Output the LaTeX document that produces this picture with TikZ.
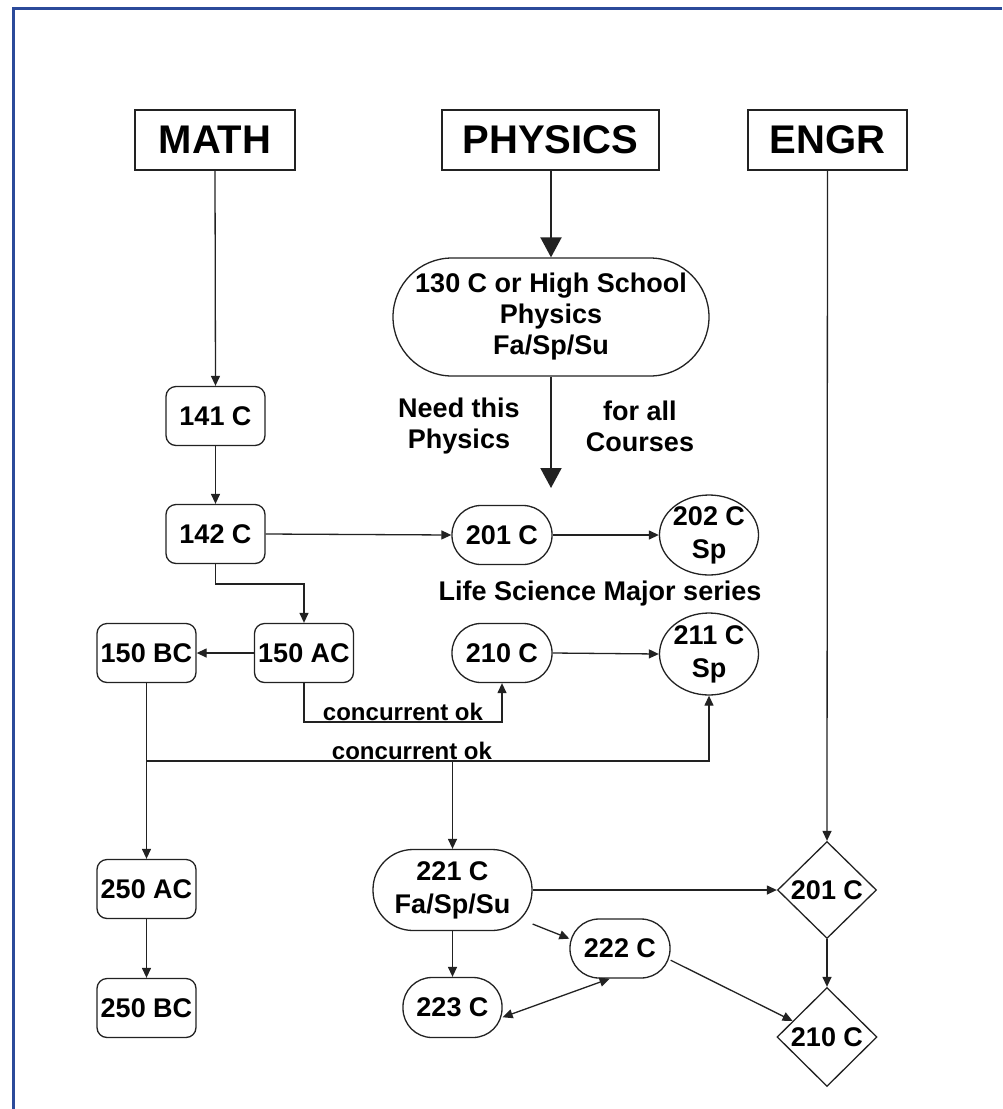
\documentclass[tikz,border=0pt]{standalone}
\usepackage{fontspec}
\setmainfont{Liberation Sans}
\usetikzlibrary{shapes.geometric,arrows.meta}
\definecolor{frameblue}{HTML}{2B4A9A}
\definecolor{ink}{HTML}{222222}
\begin{document}
\begin{tikzpicture}[x=1pt,y=-1pt,
  every node/.style={font=\bfseries\fontsize{27}{33}\selectfont, inner sep=0pt, text=black},
  hdr/.style={draw=ink, line width=1.5pt, minimum height=60pt, font=\bfseries\fontsize{40}{48}\selectfont},
  rbox/.style={draw=ink, line width=1.3pt, rounded corners=10pt, minimum width=99pt, minimum height=59pt},
  stad/.style={draw=ink, line width=1.3pt, rounded corners=29pt, minimum width=100pt, minimum height=59pt},
  oval/.style={draw=ink, ellipse, line width=1.3pt, inner sep=-1pt, align=center},
  dia/.style={draw=ink, diamond, line width=1.3pt, minimum width=99pt, minimum height=97pt},
  arr/.style={draw=ink, line width=1.3pt, -{Triangle[length=10pt,width=9pt]}},
  dblarr/.style={draw=ink, line width=1.3pt, {Triangle[length=10pt,width=9pt]}-{Triangle[length=10pt,width=9pt]}},
  bigarr/.style={draw=ink, line width=2pt, -{Triangle[length=20pt,width=21pt]}},
  ln/.style={draw=ink, line width=1.3pt},
  lbl/.style={align=center, font=\bfseries\fontsize{27}{31}\selectfont},
  small/.style={font=\bfseries\fontsize{24}{28}\selectfont}
]
\useasboundingbox (0,0) rectangle (1002,1109);
\fill[white] (0,0) rectangle (1002,1109);
\draw[frameblue, line width=3pt] (13,1109) -- (13,8) -- (1002,8);

% headers
\node[hdr, minimum width=160pt] (math) at (215,140) {MATH};
\node[hdr, minimum width=217pt] (phys) at (550.5,140) {PHYSICS};
\node[hdr, minimum width=159pt] (engr) at (827.5,140) {ENGR};

% math column
\node[rbox] (c141) at (215.5,416) {141 C};
\node[rbox] (c142) at (215.5,534) {142 C};
\node[rbox] (c150ac) at (304,653) {150 AC};
\node[rbox] (c150bc) at (146.5,653) {150 BC};
\node[rbox] (c250ac) at (146.5,889) {250 AC};
\node[rbox] (c250bc) at (146.5,1008) {250 BC};

% physics column
\node[stad, minimum width=316pt, minimum height=118pt, rounded corners=59pt, align=center,
      font=\bfseries\fontsize{27}{31}\selectfont] (p130) at (551,317) {130 C or High School\\Physics\\Fa/Sp/Su};
\coordinate (p130end) at (551,488);
\node[lbl] (need) at (459,426) {Need this\\Physics};
\node[lbl] (forall) at (640,426) {for all\\Courses};

\node[stad] (p201) at (502,535) {201 C};
\node[oval, minimum width=99pt, minimum height=80pt] (p202) at (709,535) {202 C\\Sp};
\node (lsm) at (600,594) {Life Science Major series};
\node[stad] (p210) at (502,653) {210 C};
\node[oval, minimum width=99pt, minimum height=82pt] (p211) at (709,654) {211 C\\Sp};

\node[stad, minimum width=159pt, minimum height=81pt, rounded corners=40pt, align=center] (p221) at (452.5,890) {221 C\\Fa/Sp/Su};
\node[stad] (p222) at (620,948.5) {222 C};
\node[stad, minimum width=99pt, minimum height=60pt] (p223) at (452.5,1007.5) {223 C};

% engineering column
\node[dia] (e201) at (827,890) {201 C};
\node[dia, minimum width=100pt, minimum height=99pt] (e210) at (827,1037) {210 C};

% labels
\node[small] (cok1) at (403,712) {concurrent ok};
\node[small] (cok2) at (412,751) {concurrent ok};

% connectors: math
\draw[arr] (math.south) -- (c141.north);
\draw[arr] (c141.south) -- (c142.north);
\draw[arr] (c142.east) -- (p201.west);
\draw[arr] (c142.south) -- (215.5,584) -| (c150ac.north);
\draw[arr] (c150ac.west) -- (c150bc.east);
\draw[arr] (c150ac.south) -- (304,722) -| (p210.south);
\coordinate (jl) at (146.5,761);
\coordinate (jm) at (452.5,761);
\draw[arr] (c150bc.south) -- (c250ac.north);
\draw[arr] (jl) -- (709,761) -- (p211.south);
\draw[arr] (jm) -- (p221.north);
\draw[arr] (c250ac.south) -- (c250bc.north);

% connectors: physics
\draw[bigarr] (phys.south -| p130.north) -- (p130.north);
\draw[bigarr] (p130.south) -- (p130end);
\draw[arr] (p201.east) -- (p202.west);
\draw[arr] (p210.east) -- (p211.west);
\draw[arr] (p221.east) -- (e201.west);
\draw[arr] (p221.south) -- (p223.north);
\draw[arr] (p221.-23) -- (p222.169);
\draw[dblarr] (p223.-11) -- (p222.-109);
\draw[arr] (p222.-13) -- (e210.155);

% connectors: engr
\draw[arr] (engr.south) -- (e201.north);
\draw[arr] (e201.south) -- (e210.north);
\end{tikzpicture}
\end{document}
